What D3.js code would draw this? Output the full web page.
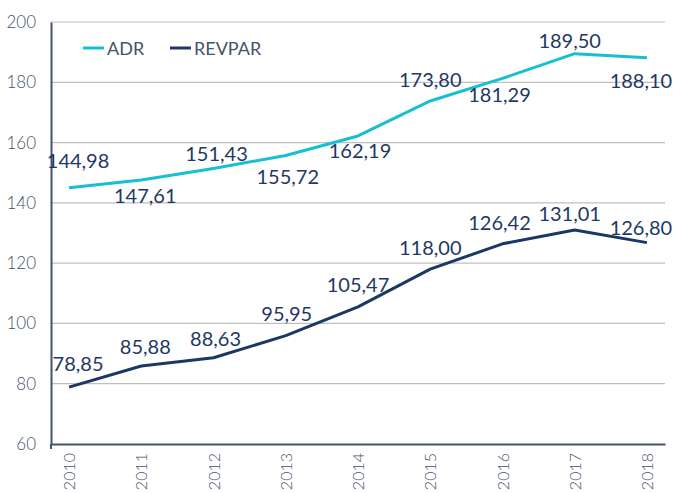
<!DOCTYPE html>
<html>
<head>
<meta charset="utf-8">
<script src="https://cdn.jsdelivr.net/npm/d3@7"></script>
<style>
  body { margin: 0; background: #fff; }
  text { font-family: Lato, "Open Sans", sans-serif; }
</style>
</head>
<body>
<div id="vis"></div>
<script>
// data
const YEARS = ["2010", "2011", "2012", "2013", "2014", "2015", "2016", "2017", "2018"];
const ADR = [144.98, 147.61, 151.43, 155.72, 162.19, 173.80, 181.29, 189.50, 188.10];
const REVPAR = [78.85, 85.88, 88.63, 95.95, 105.47, 118.00, 126.42, 131.01, 126.80];
const Y_TICKS = [60, 80, 100, 120, 140, 160, 180, 200];

// label placement relative to the point (layout, not data)
const ADR_OFFSETS = [[9, -20], [4, 23], [3, -7], [2, 29], [2, 22], [0, -14], [-3, 24], [-5, -6], [-6, 30]];
const REV_OFFSETS = [[9, -16], [4, -12], [2, -12], [1, -15], [0, -15], [0, -14], [-3, -14], [-5, -9], [-6, -8]];

const FRAME_WIDTH = 673;
const FRAME_HEIGHT = 493;
const MARGINS = {left: 51, right: 8, top: 22, bottom: 49};

const FRAME = d3.select("#vis")
  .append("svg")
    .attr("width", FRAME_WIDTH)
    .attr("height", FRAME_HEIGHT);

const X_SCALE = d3.scalePoint()
  .domain(YEARS)
  .range([MARGINS.left, FRAME_WIDTH - MARGINS.right])
  .padding(0.25);

const Y_SCALE = d3.scaleLinear()
  .domain([60, 200])
  .range([FRAME_HEIGHT - MARGINS.bottom, MARGINS.top]);

// gridlines
FRAME.append("g")
  .selectAll("line")
  .data(Y_TICKS.slice(1))
  .enter()
  .append("line")
    .attr("x1", MARGINS.left)
    .attr("x2", FRAME_WIDTH - MARGINS.right)
    .attr("y1", (d) => Y_SCALE(d))
    .attr("y2", (d) => Y_SCALE(d))
    .attr("stroke", "#bfbfbf")
    .attr("stroke-width", 1.2);

// y axis
const yAxis = FRAME.append("g")
  .attr("transform", "translate(" + MARGINS.left + ",0)")
  .call(d3.axisLeft(Y_SCALE).tickValues(Y_TICKS).tickSize(0).tickPadding(15));
yAxis.select(".domain").attr("stroke", "#44546a").attr("stroke-width", 2);
yAxis.selectAll("text")
  .attr("font-size", "17px")
  .attr("fill", "#44546a")
  .attr("font-weight", 300)
  .attr("font-family", "Lato, sans-serif");

// x axis
const xAxis = FRAME.append("g")
  .attr("transform", "translate(0," + (FRAME_HEIGHT - MARGINS.bottom) + ")")
  .call(d3.axisBottom(X_SCALE).tickSize(0).tickPadding(0));
xAxis.select(".domain").attr("stroke", "#44546a").attr("stroke-width", 2);
xAxis.selectAll("text")
  .attr("font-size", "16px")
  .attr("fill", "#44546a")
  .attr("font-weight", 300)
  .attr("font-family", "Lato, sans-serif")
  .attr("text-anchor", "end")
  .attr("transform", "rotate(-90)")
  .attr("x", -9)
  .attr("y", 0)
  .attr("dy", "0.35em");

// small tick below the origin
FRAME.append("line")
  .attr("x1", MARGINS.left).attr("x2", MARGINS.left)
  .attr("y1", FRAME_HEIGHT - MARGINS.bottom)
  .attr("y2", FRAME_HEIGHT - MARGINS.bottom + 5)
  .attr("stroke", "#44546a")
  .attr("stroke-width", 2);

const line = d3.line()
  .x((d, i) => X_SCALE(YEARS[i]))
  .y((d) => Y_SCALE(d));

const SERIES = [
  {name: "ADR", values: ADR, color: "#17bfd2", offsets: ADR_OFFSETS},
  {name: "REVPAR", values: REVPAR, color: "#1b3764", offsets: REV_OFFSETS}
];

SERIES.forEach((s) => {
  FRAME.append("path")
    .datum(s.values)
    .attr("d", line)
    .attr("fill", "none")
    .attr("stroke", s.color)
    .attr("stroke-width", 3)
    .attr("stroke-linejoin", "round");

  FRAME.append("g")
    .selectAll("text")
    .data(s.values)
    .enter()
    .append("text")
      .attr("x", (d, i) => X_SCALE(YEARS[i]) + s.offsets[i][0])
      .attr("y", (d, i) => Y_SCALE(d) + s.offsets[i][1])
      .attr("text-anchor", "middle")
      .attr("font-size", "20px")
      .attr("fill", "#1f3864")
      .text((d) => d.toFixed(2).replace(".", ","));
});

// legend
const LEGEND_X = [83, 170];
const legend = FRAME.append("g");
SERIES.forEach((s, i) => {
  legend.append("line")
    .attr("x1", LEGEND_X[i]).attr("x2", LEGEND_X[i] + 21)
    .attr("y1", 48).attr("y2", 48)
    .attr("stroke", s.color)
    .attr("stroke-width", 3);
  legend.append("text")
    .attr("x", LEGEND_X[i] + 24)
    .attr("y", 55)
    .attr("font-size", "18px")
    .attr("fill", "#44546a")
    .text(s.name);
});
</script>
</body>
</html>
